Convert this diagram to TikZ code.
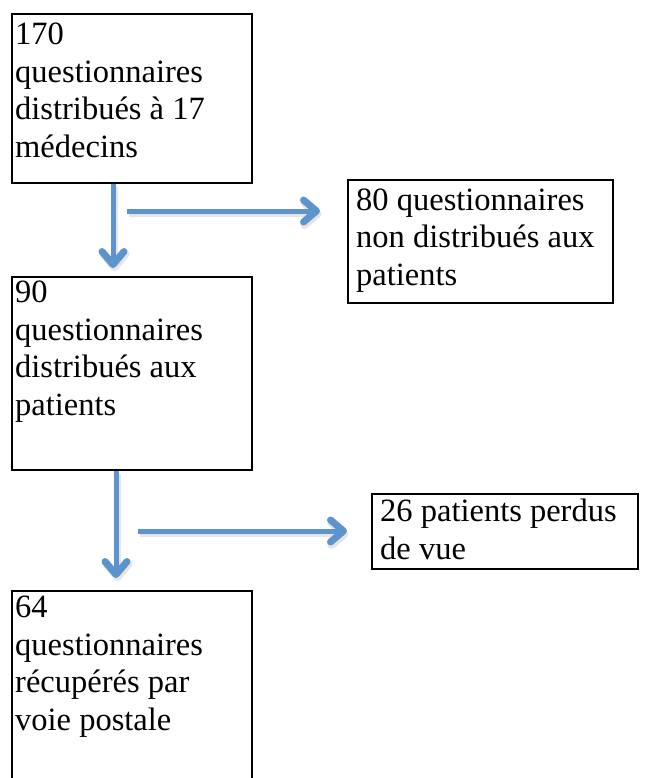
\documentclass[tikz,border=0pt]{standalone}
\usepackage{fontspec}
\setmainfont{Liberation Serif}
\usetikzlibrary{arrows.meta,calc}
\definecolor{arrowblue}{RGB}{94,148,206}
\tikzset{
  box/.style={draw=black, line width=2pt, rectangle, inner sep=0pt, anchor=north west},
  lbl/.style={anchor=base west, align=left, inner sep=0pt,
    font=\fontsize{32.5}{37.4}\selectfont},
  tipstyle/.style={-{Straight Barb[length=13pt,width=22pt,line width=2pt 1,round]}},
  flow/.style={draw=arrowblue, line width=5pt, tipstyle},
  flowshadow/.style={draw=black!40, opacity=0.25, line width=6pt, tipstyle, transform canvas={shift={(1.5pt,-3pt)}}}
}
\begin{document}
\begin{tikzpicture}[x=1pt,y=-1pt]
\clip (0,0) rectangle (651,778);
\path[fill=white] (0,0) rectangle (651,778);
% boxes
\node[box, minimum width=240pt, minimum height=169pt] (b1) at (11,13) {};
\node[box, minimum width=240pt, minimum height=193pt] (b2) at (11,276) {};
\node[box, minimum width=240pt, minimum height=260pt] (b3) at (11,590) {};
\node[box, minimum width=265pt, minimum height=123pt] (b4) at (347,179) {};
\node[box, minimum width=266pt, minimum height=75pt] (b5) at (371,493) {};
% texts (anchor = baseline of last line)
\node[lbl] (t1) at (15,157.2) {170\\questionnaires\\distribués à 17\\médecins};
\node[lbl] (t2) at (15,415) {90\\questionnaires\\distribués aux\\patients};
\node[lbl] (t3) at (15,730) {64\\questionnaires\\récupérés par\\voie postale};
\node[lbl] (t4) at (356,285) {80 questionnaires\\non distribués aux\\patients};
\node[lbl] (t5) at (380,559) {26 patients perdus\\de vue};
% connector anchors
\coordinate (v1) at (113,0);
\coordinate (v2) at (116,0);
\coordinate (h1) at (127,211);
\coordinate (h2) at (138,531);
% arrow shadows
\draw[flowshadow, shorten >=8pt] (b1.south -| v1) -- (b2.north -| v1);
\draw[flowshadow, shorten >=27pt] (h1) -- (h1 -| b4.west);
\draw[flowshadow, shorten >=12pt] (b2.south -| v2) -- (b3.north -| v2);
\draw[flowshadow, shorten >=24pt] (h2) -- (h2 -| b5.west);
% arrows
\draw[flow, shorten >=8pt] (b1.south -| v1) -- (b2.north -| v1);
\draw[flow, shorten >=27pt] (h1) -- (h1 -| b4.west);
\draw[flow, shorten >=12pt] (b2.south -| v2) -- (b3.north -| v2);
\draw[flow, shorten >=24pt] (h2) -- (h2 -| b5.west);
\end{tikzpicture}
\end{document}
